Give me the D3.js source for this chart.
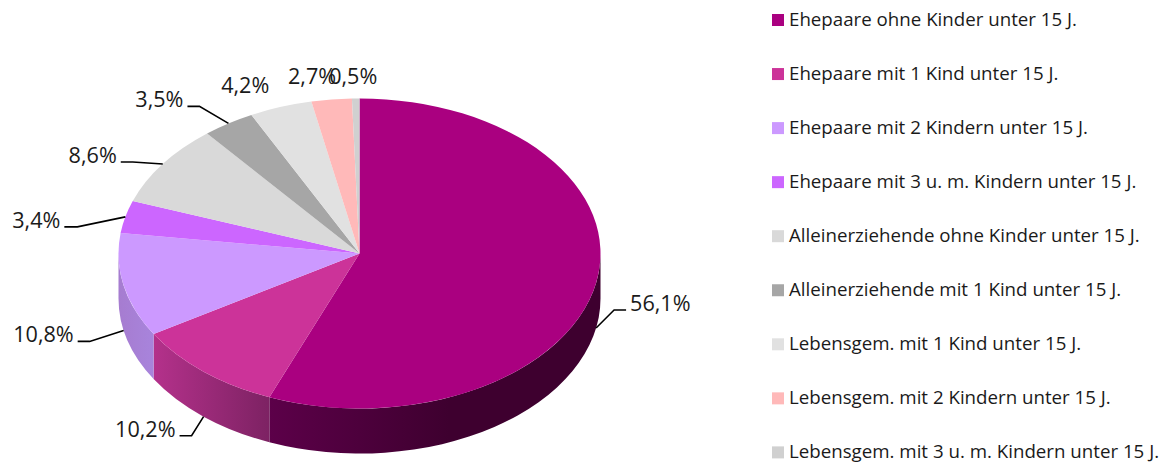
<!DOCTYPE html>
<html lang="de">
<head>
<meta charset="utf-8">
<title>Familienformen</title>
<script src="https://cdn.jsdelivr.net/npm/d3@7"></script>
<style>
  html, body { margin: 0; padding: 0; background: #fff; }
  svg { display: block; }
  text { font-family: "Open Sans", sans-serif; fill: #1a1a1a; }
</style>
</head>
<body>
<svg id="chart" width="1162" height="463"></svg>
<script>
// Family types and their shares in percent
const categories = [
  "Ehepaare ohne Kinder unter 15 J.",
  "Ehepaare mit 1 Kind unter 15 J.",
  "Ehepaare mit 2 Kindern unter 15 J.",
  "Ehepaare mit 3 u. m. Kindern unter 15 J.",
  "Alleinerziehende ohne Kinder unter 15 J.",
  "Alleinerziehende mit 1 Kind unter 15 J.",
  "Lebensgem. mit 1 Kind unter 15 J.",
  "Lebensgem. mit 2 Kindern unter 15 J.",
  "Lebensgem. mit 3 u. m. Kindern unter 15 J."
];
const values = [56.1, 10.2, 10.8, 3.4, 8.6, 3.5, 4.2, 2.7, 0.5];
const colors = ["#aa0080", "#cc3399", "#cc99ff", "#cc66ff", "#d9d9d9", "#a6a6a6", "#e1e1e1", "#ffb9b9", "#d0d0d0"];

// Shading of the visible rim: [left end, right end] for each front-facing slice
const rimShades = [
  ["#5c0049", "#3e002f"],
  ["#b4318b", "#7d2263"],
  ["#a67cd0", "#a884dc"]
];

// Label placement relative to each slice's rim anchor; elbow = bend of the leader,
// run = horizontal tail, free labels carry no leader at all
const labelLayout = [
  { elbow: [18, -18], run: 12, tx: 4, ty: 1 },
  { elbow: [-12, 19], run: -12, tx: -4, ty: 1 },
  { elbow: [-34, 11], run: -12, tx: -4, ty: 1 },
  { elbow: [-48, 10], run: -13, tx: -4, ty: 1 },
  { elbow: [-30, -2], run: -12, tx: -4, ty: 1 },
  { elbow: [-29, -17], run: -12, tx: -4, ty: 1 },
  { free: [-35.5, -14] },
  { free: [-19.5, -15.5] },
  { free: [-2.5, -14.5] }
];

const cx = 359.5, cy = 253.5, rx = 241, ry = 155, depth = 45;

const svg = d3.select("#chart");
const defs = svg.append("defs");
const color = d3.scaleOrdinal().domain(categories).range(colors);

const slices = d3.pie().sort(null).value(d => d.value)(
  categories.map((name, i) => ({ name, value: values[i], i }))
);

const px = a => cx + rx * Math.sin(a);
const py = a => cy - ry * Math.cos(a);

// Rim: the part of each slice lying on the front half of the ellipse
const rim = svg.append("g");
slices.forEach((s, i) => {
  const a0 = Math.max(s.startAngle, Math.PI / 2);
  const a1 = Math.min(s.endAngle, Math.PI * 1.5);
  if (a1 <= a0) return;
  const id = "rim" + i;
  const shade = rimShades[i] || [color(s.data.name), color(s.data.name)];
  const g = defs.append("linearGradient").attr("id", id)
    .attr("gradientUnits", "userSpaceOnUse")
    .attr("x1", px(a1)).attr("x2", Math.min(px(a0), px(a1) + 180))
    .attr("y1", 0).attr("y2", 0);
  g.append("stop").attr("offset", 0).attr("stop-color", shade[0]);
  g.append("stop").attr("offset", 1).attr("stop-color", shade[1]);
  rim.append("path")
    .attr("fill", `url(#${id})`)
    .attr("d", `M${px(a0)},${py(a0)}A${rx},${ry} 0 0 1 ${px(a1)},${py(a1)}` +
               `L${px(a1)},${py(a1) + depth}A${rx},${ry} 0 0 0 ${px(a0)},${py(a0) + depth}Z`);
});

// Top face: a circular pie flattened into the ellipse
const arc = d3.arc().innerRadius(0).outerRadius(rx);
svg.append("g")
  .attr("transform", `translate(${cx},${cy}) scale(1,${ry / rx})`)
  .selectAll("path")
  .data(slices)
  .join("path")
  .attr("d", arc)
  .attr("fill", d => color(d.data.name));

// Percentage labels with elbowed leaders
const formatValue = v => v.toFixed(1).replace(".", ",") + "%";
const labels = svg.append("g");
slices.forEach((s, i) => {
  const mid = (s.startAngle + s.endAngle) / 2;
  const onFront = mid > Math.PI / 2 && mid < Math.PI * 1.5;
  const ax = px(mid), ay = py(mid) + (onFront ? depth : 0);
  const l = labelLayout[i];
  let tx, ty, anchor;
  if (l.free) {
    tx = ax + l.free[0]; ty = ay + l.free[1]; anchor = "middle";
  } else {
    const bx = ax + l.elbow[0], by = ay + l.elbow[1];
    const ex = bx + l.run;
    labels.append("path")
      .attr("d", d3.line()([[ax, ay], [bx, by], [ex, by]]))
      .attr("fill", "none").attr("stroke", "#000").attr("stroke-width", 1.6);
    anchor = l.run > 0 ? "start" : "end";
    tx = ex + l.tx; ty = by + l.ty;
  }
  labels.append("text")
    .attr("transform", `translate(${tx},${ty}) scale(0.96,1)`)
    .attr("text-anchor", anchor)
    .attr("font-size", 22.5)
    .text(formatValue(s.data.value));
});

// Legend column
const rowY = d3.scalePoint().domain(categories).range([26, 458.4]);
const legend = svg.append("g").selectAll("g").data(categories).join("g")
  .attr("transform", d => `translate(772,${rowY(d)})`);
legend.append("rect")
  .attr("y", -12).attr("width", 12).attr("height", 12)
  .attr("fill", d => color(d));
legend.append("text")
  .attr("transform", "translate(17,0) scale(0.985,1)")
  .attr("font-size", 19)
  .text(d => d);
</script>
</body>
</html>
